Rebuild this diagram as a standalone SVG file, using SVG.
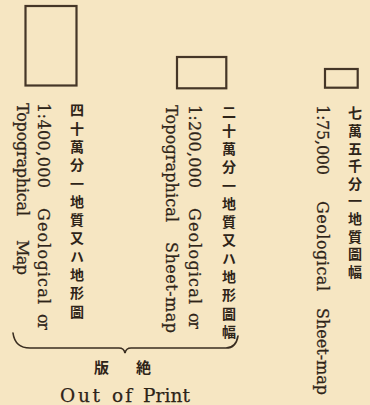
<svg xmlns="http://www.w3.org/2000/svg" width="370" height="405" viewBox="0 0 370 405">
<style>
.bg{fill:#f6e6c2}
.box{fill:none;stroke:#453627;stroke-width:2.2}
.en{font-family:"DejaVu Serif","Liberation Serif",serif;font-size:16px;fill:#2e2418;stroke:#2e2418;stroke-width:0.25}
.jp{font-family:"Noto Sans CJK JP","Noto Sans CJK SC",sans-serif;font-size:14px;font-weight:700;fill:#2e2418;writing-mode:vertical-rl;text-orientation:upright;letter-spacing:4.3px}
.jph{font-family:"Noto Sans CJK JP","Noto Sans CJK SC",sans-serif;font-size:15px;font-weight:700;fill:#2e2418}
.en2{font-family:"DejaVu Serif","Liberation Serif",serif;font-size:18.5px;fill:#2e2418;stroke:#2e2418;stroke-width:0.25}
.brace{fill:none;stroke:#3a2e21;stroke-width:1.6;stroke-linecap:round}
</style>
<rect class="bg" x="0" y="0" width="370" height="405"/>
<g id="legend-400k">
<rect class="box" x="25.5" y="6" width="51" height="79.5"/>
<text class="jp" x="77" y="103">四十萬分一地質又ハ地形圖</text>
<text class="en" transform="translate(38,103) rotate(90)"><tspan x="0" textLength="85">1:400,000</tspan><tspan x="105" textLength="96">Geological</tspan><tspan x="211" textLength="16">or</tspan></text>
<text class="en" transform="translate(17,103) rotate(90)"><tspan x="0" textLength="113">Topographical</tspan><tspan x="137" textLength="35">Map</tspan></text>
</g>
<g id="legend-200k">
<rect class="box" x="177" y="57" width="49.3" height="31.3"/>
<text class="jp" x="229" y="105">二十萬分一地質又ハ地形圖幅</text>
<text class="en" transform="translate(189,105) rotate(90)"><tspan x="0" textLength="83">1:200,000</tspan><tspan x="103" textLength="96">Geological</tspan><tspan x="208" textLength="16">or</tspan></text>
<text class="en" transform="translate(166,105) rotate(90)"><tspan x="0" textLength="117">Topographical</tspan><tspan x="137" textLength="91">Sheet-map</tspan></text>
</g>
<g id="legend-75k">
<rect class="box" x="325" y="69" width="32.7" height="18.7"/>
<text class="jp" x="355" y="106" style="letter-spacing:3.6px">七萬五千分一地質圖幅</text>
<text class="en" transform="translate(317,105) rotate(90)"><tspan x="0" textLength="70">1:75,000</tspan><tspan x="96" textLength="90">Geological</tspan><tspan x="203" textLength="87">Sheet-map</tspan></text>
</g>
<g id="connectors">
<path class="brace" d="M13,333 Q15,348 30,348 L119,348 Q124,348 125,353 Q126,348 131,348 L226,348 Q236,348 238,336"/>
</g>
<g id="out-of-print">
<text class="jph" x="94" y="373">版</text>
<text class="jph" x="136" y="373">絶</text>
<text class="en2" y="402"><tspan x="60" textLength="40">Out</tspan><tspan x="112" textLength="20">of</tspan><tspan x="143" textLength="47">Print</tspan></text>
</g>
</svg>
